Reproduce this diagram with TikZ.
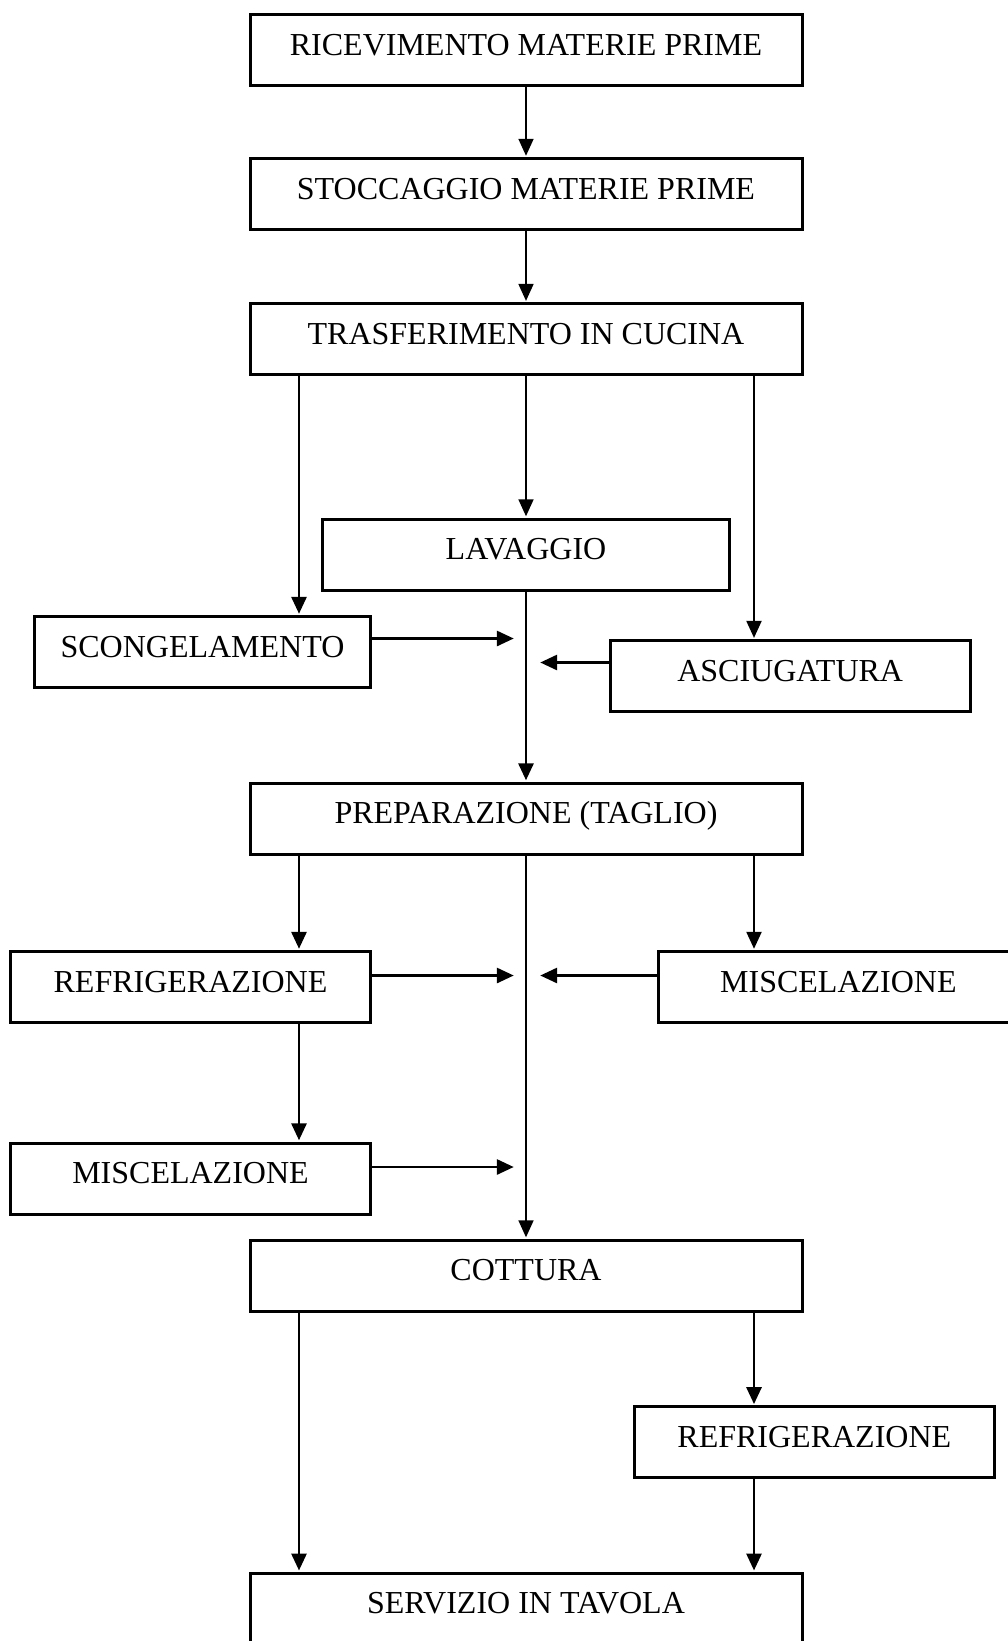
\documentclass[tikz,border=0pt]{standalone}
\usepackage{fontspec}
\setmainfont{Liberation Serif}
\usetikzlibrary{arrows.meta}
\begin{document}
\begin{tikzpicture}[x=1pt,y=-1pt,
  stepbox/.style={draw, line width=3pt, inner xsep=0pt, inner ysep=0pt,
    text height=40.5pt, text depth=30.5pt, minimum height=71pt,
    font=\fontsize{32}{38}\selectfont},
  wide/.style={stepbox, minimum width=552pt},
  side/.style={stepbox, minimum width=360pt},
  tip/.style={-{Triangle[length=17pt,width=15pt]}, shorten >=1.2pt},
  thinline/.style={tip, line width=1.7pt},
  thickline/.style={tip, line width=2.9pt}]
  \fill[white] (0,0) rectangle (1008,1641);
  \useasboundingbox (0,0) rectangle (1008,1641);

  % columns of the vertical connectors
  \coordinate (colL) at (299,0);
  \coordinate (colR) at (754,0);

  % process steps
  \node[wide] (ricev) at (526,50.2) {RICEVIMENTO MATERIE PRIME};
  \node[wide] (stocc) at (526,194) {STOCCAGGIO MATERIE PRIME};
  \node[wide] (trasf) at (526,339.1) {TRASFERIMENTO IN CUCINA};
  \node[stepbox, minimum width=407pt] (lavag) at (526,554.5) {LAVAGGIO};
  \node[stepbox, minimum width=336pt] (scong) at (202.5,652) {SCONGELAMENTO};
  \node[side] (asciu) at (790.2,676.1) {ASCIUGATURA};
  \node[wide] (prepa) at (526,818.5) {PREPARAZIONE (TAGLIO)};
  \node[side] (refrA) at (190.5,987) {REFRIGERAZIONE};
  \node[side] (miscA) at (838.4,987) {MISCELAZIONE};
  \node[side] (miscB) at (190.5,1178.5) {MISCELAZIONE};
  \node[wide] (cottu) at (526,1275.5) {COTTURA};
  \node[side] (refrB) at (814.3,1442.3) {REFRIGERAZIONE};
  \node[wide] (servi) at (526,1608.7) {SERVIZIO IN TAVOLA};

  % arrow ends beside the central line
  \coordinate (j1) at (515,638.5);
  \coordinate (j2) at (539,662.5);
  \coordinate (j3) at (515,975.5);
  \coordinate (j4) at (539,975.5);
  \coordinate (j5) at (515,1167);

  % main chain
  \draw[thinline] (ricev) -- (stocc);
  \draw[thinline] (stocc) -- (trasf);
  \draw[thinline] (trasf) -- (lavag);
  \draw[thickline] (trasf.south -| colL) -- (scong.north -| colL);
  \draw[line width=2pt, tip] (trasf.south -| colR) -- (asciu.north -| colR);
  \draw[thickline] (lavag) -- (prepa);
  \draw[thickline] (scong.east |- j1) -- (j1);
  \draw[thickline] (asciu.west |- j2) -- (j2);

  \draw[thickline] (prepa.south -| colL) -- (refrA.north -| colL);
  \draw[line width=2.3pt, tip] (prepa.south -| colR) -- (miscA.north -| colR);
  \draw[thinline] (prepa) -- (cottu);
  \draw[thickline] (refrA.east |- j3) -- (j3);
  \draw[thickline] (miscA.west |- j4) -- (j4);
  \draw[thickline] (refrA.south -| colL) -- (miscB.north -| colL);
  \draw[thickline] (miscB.east |- j5) -- (j5);

  \draw[thickline] (cottu.south -| colL) -- (servi.north -| colL);
  \draw[thickline] (cottu.south -| colR) -- (refrB.north -| colR);
  \draw[thickline] (refrB.south -| colR) -- (servi.north -| colR);
\end{tikzpicture}
\end{document}
